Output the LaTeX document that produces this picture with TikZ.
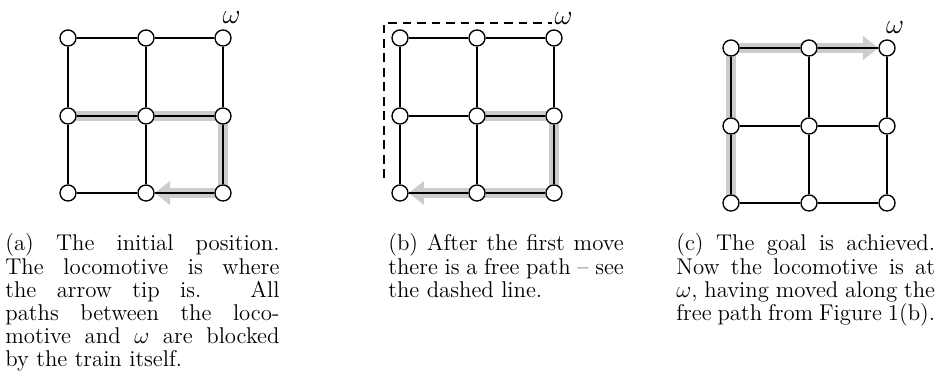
\documentclass[tikz,border=0pt]{standalone}
\usetikzlibrary{arrows.meta,backgrounds}
\tikzset{
  vert/.style={circle,draw,fill=white,line width=0.7pt,minimum size=8.3pt,inner sep=0pt},
  edge/.style={line width=0.7pt},
  train/.style={line width=5pt,gray!40,-{Triangle[length=8pt,width=12pt]}},
  freepath/.style={line width=0.6pt,dash pattern=on 4.5pt off 3pt},
  omega/.style={inner sep=0pt,font=\fontsize{14}{14}\selectfont},
  capt/.style={anchor=base west,inner sep=0pt,align=justify,font=\fontsize{11.8}{12}\selectfont}
}
\begin{document}
\begin{tikzpicture}[x=0.518pt,y=-0.518pt]
\useasboundingbox (0,0) rectangle (945,381);
% (a) initial position
\node[vert] (a1) at (68,38) {};
\node[vert] (a2) at (146,38) {};
\node[vert] (a3) at (223,38) {};
\node[vert] (a4) at (68,116) {};
\node[vert] (a5) at (146,116) {};
\node[vert] (a6) at (223,116) {};
\node[vert] (a7) at (68,193) {};
\node[vert] (a8) at (146,193) {};
\node[vert] (a9) at (223,193) {};
\draw[edge] (a1) -- (a2) -- (a3);
\draw[edge] (a4) -- (a5) -- (a6);
\draw[edge] (a7) -- (a8) -- (a9);
\draw[edge] (a1) -- (a4) -- (a7);
\draw[edge] (a2) -- (a5) -- (a8);
\draw[edge] (a3) -- (a6) -- (a9);
\begin{scope}[on background layer]
\draw[train] (a4.center) -- (a6.center) -- (a9.center) -- (a8);
\end{scope}
\node[omega] (wa) at (231.5,18) {$\omega$};
\node[capt,text width=142pt] (capa) at (5,251) {(a) The initial position.\linebreak The locomotive is where\linebreak the arrow tip is. All\linebreak paths between the loco-\linebreak motive and $\omega$ are blocked\linebreak by the train itself.};

% (b) after the first move
\node[vert] (b1) at (400,38) {};
\node[vert] (b2) at (477,38) {};
\node[vert] (b3) at (554,38) {};
\node[vert] (b4) at (400,116) {};
\node[vert] (b5) at (477,116) {};
\node[vert] (b6) at (554,116) {};
\node[vert] (b7) at (400,193) {};
\node[vert] (b8) at (477,193) {};
\node[vert] (b9) at (554,193) {};
\draw[edge] (b1) -- (b2) -- (b3);
\draw[edge] (b4) -- (b5) -- (b6);
\draw[edge] (b7) -- (b8) -- (b9);
\draw[edge] (b1) -- (b4) -- (b7);
\draw[edge] (b2) -- (b5) -- (b8);
\draw[edge] (b3) -- (b6) -- (b9);
\begin{scope}[on background layer]
\draw[train] (b5.center) -- (b6.center) -- (b9.center) -- (b7);
\end{scope}
\coordinate (fpS) at (384,178);
\coordinate (fpC) at (384,23);
\coordinate (fpE) at (552,23);
\draw[freepath] (fpS) -- (fpC) -- (fpE);
\node[omega] (wb) at (563.5,19) {$\omega$};
\node[capt,text width=122pt] (capb) at (388,251) {(b) After the first move\linebreak there is a free path -- see\linebreak the dashed line.};

% (c) goal achieved
\node[vert] (c1) at (731,48) {};
\node[vert] (c2) at (809,48) {};
\node[vert] (c3) at (887,48) {};
\node[vert] (c4) at (731,126) {};
\node[vert] (c5) at (809,126) {};
\node[vert] (c6) at (887,126) {};
\node[vert] (c7) at (731,203) {};
\node[vert] (c8) at (809,203) {};
\node[vert] (c9) at (887,203) {};
\draw[edge] (c1) -- (c2) -- (c3);
\draw[edge] (c4) -- (c5) -- (c6);
\draw[edge] (c7) -- (c8) -- (c9);
\draw[edge] (c1) -- (c4) -- (c7);
\draw[edge] (c2) -- (c5) -- (c8);
\draw[edge] (c3) -- (c6) -- (c9);
\begin{scope}[on background layer]
\draw[train] (c7.center) -- (c1.center) -- (c3);
\end{scope}
\node[omega] (wc) at (895,28) {$\omega$};
\node[capt,text width=134pt] (capc) at (676,251) {(c) The goal is achieved.\linebreak Now the locomotive is at\linebreak $\omega$, having moved along the\linebreak free path from Figure 1(b).};
\end{tikzpicture}
\end{document}
